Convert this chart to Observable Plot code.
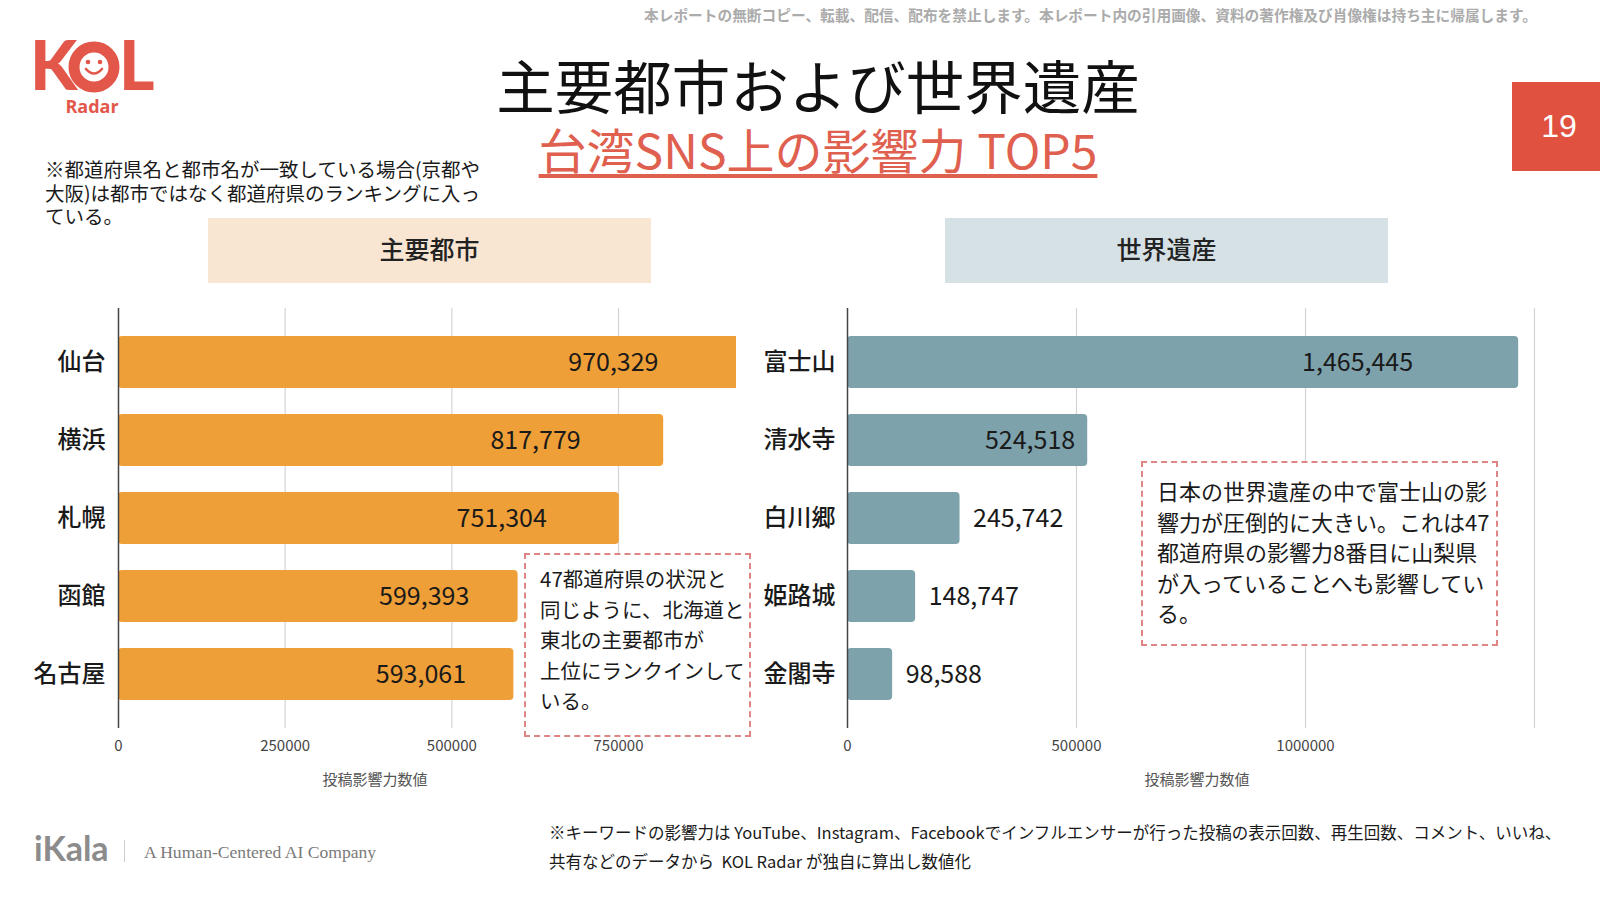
<!DOCTYPE html>
<html>
<head>
<meta charset="utf-8">
<script src="https://cdn.jsdelivr.net/npm/d3@7"></script>
<script src="https://cdn.jsdelivr.net/npm/@observablehq/plot@0.6"></script>
<style>
  html, body { margin: 0; padding: 0; background: #fff; }
  body { width: 1600px; height: 897px; overflow: hidden; position: relative; font-family: "Noto Sans CJK JP", "Noto Sans", sans-serif; color: #1a1a1a; }
  .abs { position: absolute; }
  .chart { position: absolute; }
  .chart svg { overflow: visible; }
  .note-box { position: absolute; background: #fff; border: 2px dashed #e08585; box-sizing: border-box; font-size: 20.5px; line-height: 30.6px; color: #1a1a1a; white-space: nowrap; }
  .header-box { position: absolute; display: flex; align-items: center; justify-content: center; font-size: 25px; font-weight: 500; color: #222; box-sizing: border-box; padding-bottom: 5px; }
  .axis-title { position: absolute; font-size: 15px; color: #555; transform: translateX(-50%); white-space: nowrap; }
</style>
</head>
<body>
<script>
// ---------- data ----------
const cityNames = ["仙台", "横浜", "札幌", "函館", "名古屋"];
const cityValues = [970329, 817779, 751304, 599393, 593061];
const heritageNames = ["富士山", "清水寺", "白川郷", "姫路城", "金閣寺"];
const heritageValues = [1465445, 524518, 245742, 148747, 98588];
const cityTicks = [0, 250000, 500000, 750000];
const cityGrid = [250000, 500000, 750000];
const heritageTicks = [0, 500000, 1000000];
const heritageGrid = [500000, 1000000, 1500000];
const axisTitle = "投稿影響力数値";
const cityHeader = "主要都市";
const heritageHeader = "世界遺産";

const cities = cityNames.map((name, i) => ({name, value: cityValues[i]}));
const heritage = heritageNames.map((name, i) => ({name, value: heritageValues[i]}));
const fmt = d3.format(",");
const FONT = "'Noto Sans CJK JP', 'Noto Sans', sans-serif";

// ---------- left chart ----------
const leftChart = Plot.plot({
  width: 760, height: 490,
  marginLeft: 118, marginRight: 24, marginTop: 18, marginBottom: 52,
  x: {domain: [0, 927000]},
  y: {domain: cityNames, padding: 0.33},
  style: {fontFamily: FONT, background: "transparent", color: "#222"},
  marks: [
    Plot.ruleX(cityGrid, {stroke: "#d4d4d4", strokeWidth: 1.2}),
    Plot.barX(cities, {x: "value", y: "name", fill: "#EF9F38", rx: 4, clip: true}),
    Plot.ruleX([0], {stroke: "#444", strokeWidth: 1.5}),
    Plot.text(cities, {x: d => d.value * 0.765, y: "name", text: d => fmt(d.value), fontSize: 25, fill: "#1a1a1a"}),
    Plot.axisX({ticks: cityTicks, tickSize: 0, tickPadding: 12, fontSize: 15, color: "#444", label: null, tickFormat: d => String(d)}),
    Plot.axisY({tickSize: 0, tickPadding: 13, fontSize: 24, fontWeight: 500, color: "#1a1a1a", label: null})
  ]
});
const lw = document.createElement("div");
lw.className = "chart";
lw.style.left = "0px"; lw.style.top = "290px";
lw.appendChild(leftChart);
document.body.appendChild(lw);

// ---------- right chart ----------
const rightChart = Plot.plot({
  width: 840, height: 490,
  marginLeft: 87, marginRight: 66, marginTop: 18, marginBottom: 52,
  x: {domain: [0, 1500000]},
  y: {domain: heritageNames, padding: 0.33},
  style: {fontFamily: FONT, background: "transparent", color: "#222"},
  marks: [
    Plot.ruleX(heritageGrid, {stroke: "#d4d4d4", strokeWidth: 1.2}),
    Plot.barX(heritage, {x: "value", y: "name", fill: "#7DA2AC", rx: 4}),
    Plot.ruleX([0], {stroke: "#444", strokeWidth: 1.5}),
    Plot.text(heritage.filter(d => d.value > 400000), {x: d => d.value * 0.76, y: "name", text: d => fmt(d.value), fontSize: 25, fill: "#1a1a1a"}),
    Plot.text(heritage.filter(d => d.value <= 400000), {x: "value", y: "name", text: d => fmt(d.value), fontSize: 25, fill: "#1a1a1a", textAnchor: "start", dx: 13}),
    Plot.axisX({ticks: heritageTicks, tickSize: 0, tickPadding: 12, fontSize: 15, color: "#444", label: null, tickFormat: d => String(d)}),
    Plot.axisY({tickSize: 0, tickPadding: 12, fontSize: 24, fontWeight: 500, color: "#1a1a1a", label: null})
  ]
});
const rw = document.createElement("div");
rw.className = "chart";
rw.style.left = "760px"; rw.style.top = "290px";
rw.appendChild(rightChart);
document.body.appendChild(rw);

// ---------- surrounding slide elements ----------
function add(html) {
  const t = document.createElement("template");
  t.innerHTML = html.trim();
  const el = t.content.firstChild;
  document.body.appendChild(el);
  return el;
}

add(`<div class="axis-title" style="left:375px; top:768px;">${axisTitle}</div>`);
add(`<div class="axis-title" style="left:1197px; top:768px;">${axisTitle}</div>`);

add(`<div class="header-box" style="left:208px; top:218px; width:443px; height:65px; background:#F8E5D2;">${cityHeader}</div>`);
add(`<div class="header-box" style="left:945px; top:218px; width:443px; height:65px; background:#D5E1E5;">${heritageHeader}</div>`);

add(`<div class="note-box" style="left:524px; top:553px; width:227px; height:184px; padding:8px 0 0 14px;">47都道府県の状況と<br>同じように、北海道と<br>東北の主要都市が<br>上位にランクインして<br>いる。</div>`);
add(`<div class="note-box" style="left:1141px; top:461px; width:357px; height:185px; padding:12px 0 0 14px; font-size:22px;">日本の世界遺産の中で富士山の影<br>響力が圧倒的に大きい。これは47<br>都道府県の影響力8番目に山梨県<br>が入っていることへも影響してい<br>る。</div>`);

// title & subtitle
add(`<div class="abs" style="left:818px; top:54px; transform:translateX(-50%); font-size:58.5px; line-height:60px; white-space:nowrap; color:#111;">主要都市および世界遺産</div>`);
add(`<div class="abs" style="left:818px; top:122px; transform:translateX(-50%); font-size:48px; line-height:52px; white-space:nowrap; color:#E0604F; text-decoration:underline; text-decoration-thickness:4px; text-underline-offset:5px;">台湾SNS上の影響力 TOP5</div>`);

// page number
add(`<div class="abs" style="left:1512px; top:82px; width:88px; height:89px; background:#E0513F; color:#fff; font-family:'Liberation Sans', Arial, sans-serif; font-size:32px; display:flex; align-items:center; justify-content:center; padding-left:6px; box-sizing:border-box;">19</div>`);

// watermark
add(`<div class="abs" style="left:644px; top:4px; font-size:14.7px; font-weight:700; color:#ababab; white-space:nowrap;">本レポートの無断コピー、転載、配信、配布を禁止します。本レポート内の引用画像、資料の著作権及び肖像権は持ち主に帰属します。</div>`);

// note top-left
add(`<div class="abs" style="left:45px; top:157px; font-size:19.5px; line-height:23.5px; color:#1a1a1a; white-space:nowrap;">※都道府県名と都市名が一致している場合(京都や<br>大阪)は都市ではなく都道府県のランキングに入っ<br>ている。</div>`);

// logo
add(`<svg class="abs" style="left:16px; top:20px; overflow:visible;" width="160" height="105" viewBox="0 0 160 105">
  <g transform="translate(12,14)">
  <text x="2" y="56" font-family="Lato, 'Open Sans', sans-serif" font-weight="900" font-size="68" fill="#E2574A">K</text>
  <circle cx="66" cy="33" r="20" fill="none" stroke="#E2574A" stroke-width="11"/>
  <circle cx="60" cy="28" r="2.3" fill="#E2574A"/>
  <circle cx="72" cy="28" r="2.3" fill="#E2574A"/>
  <path d="M58 35 Q66 44 74 35" fill="none" stroke="#E2574A" stroke-width="2.6" stroke-linecap="round"/>
  <text x="91" y="56" font-family="Lato, 'Open Sans', sans-serif" font-weight="900" font-size="68" fill="#E2574A">L</text>
  <text x="64" y="79" text-anchor="middle" font-family="'Open Sans', Lato, sans-serif" font-weight="700" font-size="18" fill="#E2574A">Radar</text>
  </g>
</svg>`);

// footer
add(`<div class="abs" style="left:34px; top:826px; font-family:Lato, 'Open Sans', sans-serif; font-weight:700; font-size:34px; line-height:44px; color:#8c8c8c;">iKala</div>`);
add(`<div class="abs" style="left:124px; top:840px; width:1px; height:22px; background:#ccc;"></div>`);
add(`<div class="abs" style="left:144px; top:840px; font-family:'Liberation Serif', 'DejaVu Serif', serif; font-size:17.6px; line-height:24px; color:#7a7a7a; white-space:nowrap;">A Human-Centered AI Company</div>`);
add(`<div class="abs" style="left:549px; top:818px; font-size:16.5px; line-height:29px; color:#1a1a1a; white-space:nowrap;">※キーワードの影響力は YouTube、Instagram、Facebookでインフルエンサーが行った投稿の表示回数、再生回数、コメント、いいね、<br>共有などのデータから&nbsp; KOL Radar が独自に算出し数値化</div>`);
</script>
</body>
</html>
